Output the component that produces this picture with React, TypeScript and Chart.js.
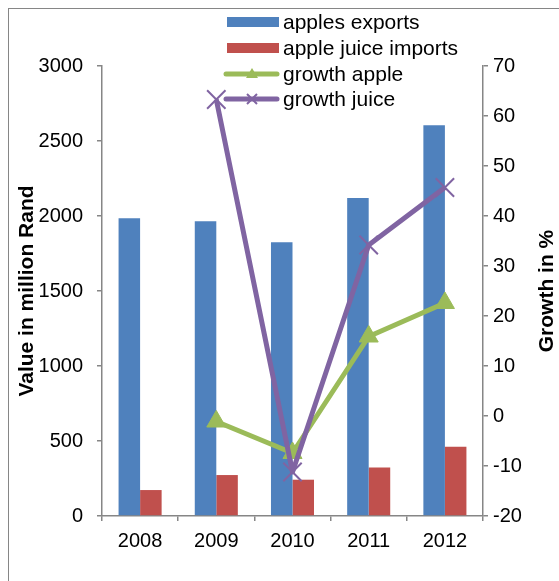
import React, { useEffect, useRef } from "react";
import { Chart, registerables } from "chart.js";

Chart.register(...registerables);

const years = ["2008", "2009", "2010", "2011", "2012"];
const applesExports = [1985, 1965, 1825, 2120, 2605];
const appleJuiceImports = [173, 273, 242, 324, 462];
const growthApple = [null, -1.1, -7.4, 15.9, 22.6];
const growthJuice = [null, 63.3, -11.2, 34.2, 45.7];
const leftTicks = [0, 500, 1000, 1500, 2000, 2500, 3000];
const rightTicks = [-20, -10, 0, 10, 20, 30, 40, 50, 60, 70];

const FONT = '"Liberation Sans", Arial, sans-serif';
const AXIS = "#868686";
const BLUE = "#4F81BD";
const RED = "#C0504D";
const GREEN = "#9BBB59";
const PURPLE = "#8064A2";

const CW = 550;
const CH = 572;
const AREA_LEFT = 93;
const AREA_RIGHT = 474;
const AREA_TOP = 57;
const AREA_BOTTOM = 507;

const legendPlugin = {
  id: "customLegend",
  afterDraw(chart: any) {
    const ctx = chart.ctx;
    const rows = [13, 39, 65, 90];
    const order = [0, 1, 2, 3];
    ctx.save();
    ctx.font = `21px ${FONT}`;
    ctx.textBaseline = "middle";
    ctx.textAlign = "left";
    order.forEach((di, i) => {
      const ds = chart.data.datasets[di];
      const y = rows[i];
      if (ds.type === "line") {
        ctx.strokeStyle = ds.borderColor;
        ctx.lineWidth = 5;
        ctx.lineCap = "round";
        ctx.beginPath();
        ctx.moveTo(217, y);
        ctx.lineTo(268, y);
        ctx.stroke();
        ctx.lineCap = "butt";
        const cx = 243;
        if (ds.pointStyle === "triangle") {
          ctx.fillStyle = ds.borderColor;
          ctx.beginPath();
          ctx.moveTo(cx, y - 6);
          ctx.lineTo(cx + 6, y + 4);
          ctx.lineTo(cx - 6, y + 4);
          ctx.closePath();
          ctx.fill();
        } else {
          ctx.lineWidth = 2;
          ctx.beginPath();
          ctx.moveTo(cx - 5, y - 5);
          ctx.lineTo(cx + 5, y + 5);
          ctx.moveTo(cx + 5, y - 5);
          ctx.lineTo(cx - 5, y + 5);
          ctx.stroke();
        }
      } else {
        ctx.fillStyle = ds.backgroundColor;
        ctx.fillRect(218, y - 5, 52, 10);
      }
      ctx.fillStyle = "#000";
      ctx.fillText(ds.label, 274, y + 1);
    });
    // right axis title, reading bottom to top
    ctx.font = `bold 21px ${FONT}`;
    ctx.textAlign = "center";
    ctx.translate(538, (AREA_TOP + AREA_BOTTOM) / 2);
    ctx.rotate(-Math.PI / 2);
    ctx.fillText("Growth in %", 0, 0);
    ctx.restore();
  },
};

export default function App() {
  const ref = useRef<HTMLCanvasElement>(null);
  useEffect(() => {
    if (!ref.current) return;
    const chart = new Chart(ref.current, {
      type: "bar",
      data: {
        labels: years,
        datasets: [
          {
            type: "bar",
            label: "apples exports",
            data: applesExports,
            backgroundColor: BLUE,
            yAxisID: "y",
            order: 3,
            barPercentage: 1,
            categoryPercentage: 0.565,
          },
          {
            type: "bar",
            label: "apple juice imports",
            data: appleJuiceImports,
            backgroundColor: RED,
            yAxisID: "y",
            order: 3,
            barPercentage: 1,
            categoryPercentage: 0.565,
          },
          {
            type: "line",
            label: "growth apple",
            data: growthApple,
            borderColor: GREEN,
            backgroundColor: GREEN,
            borderWidth: 5,
            pointStyle: "triangle",
            pointRadius: 11,
            pointBackgroundColor: GREEN,
            pointBorderColor: GREEN,
            pointBorderWidth: 1,
            yAxisID: "y1",
            order: 2,
            tension: 0,
            borderJoinStyle: "round",
          },
          {
            type: "line",
            label: "growth juice",
            data: growthJuice,
            borderColor: PURPLE,
            backgroundColor: PURPLE,
            borderWidth: 5,
            pointStyle: "crossRot",
            pointRadius: 13,
            pointBorderColor: PURPLE,
            pointBorderWidth: 2,
            yAxisID: "y1",
            order: 1,
            tension: 0,
            borderJoinStyle: "round",
          },
        ] as any,
      },
      options: {
        animation: false,
        responsive: false,
        maintainAspectRatio: false,
        layout: { padding: { top: AREA_TOP, left: 0, right: 0, bottom: 0 } },
        plugins: {
          legend: { display: false },
          tooltip: { enabled: false },
          title: { display: false },
        },
        scales: {
          x: {
            offset: true,
            grid: {
              offset: true,
              drawOnChartArea: false,
              drawTicks: true,
              tickLength: 5,
              color: AXIS,
              lineWidth: 1.5,
            },
            border: { color: AXIS, width: 1.5 },
            ticks: {
              font: { family: FONT, size: 20 },
              color: "#000",
              padding: 8,
              maxRotation: 0,
            },
            afterFit(scale: any) {
              scale.height = CH - AREA_BOTTOM;
            },
          },
          y: {
            position: "left",
            min: 0,
            max: 3000,
            afterBuildTicks(scale: any) {
              scale.ticks = leftTicks.map((v) => ({ value: v }));
            },
            grid: {
              drawOnChartArea: false,
              tickLength: 5,
              color: AXIS,
              lineWidth: 1.5,
            },
            border: { color: AXIS, width: 1.5 },
            ticks: {
              font: { family: FONT, size: 20 },
              color: "#000",
              padding: 14,
              callback: (v: any) => String(v),
            },
            title: {
              display: true,
              text: "Value in million Rand",
              font: { family: FONT, size: 21, weight: "bold" },
              color: "#000",
              padding: { top: 6, bottom: 0 },
            },
            afterFit(scale: any) {
              scale.width = AREA_LEFT;
            },
          },
          y1: {
            position: "right",
            min: -20,
            max: 70,
            afterBuildTicks(scale: any) {
              scale.ticks = rightTicks.map((v) => ({ value: v }));
            },
            grid: {
              drawOnChartArea: false,
              tickLength: 5,
              color: AXIS,
              lineWidth: 1.5,
            },
            border: { color: AXIS, width: 1.5 },
            ticks: {
              font: { family: FONT, size: 20 },
              color: "#000",
              padding: 5,
              callback: (v: any) => String(v),
            },
            afterFit(scale: any) {
              scale.width = CW - AREA_RIGHT;
            },
          },
        },
      } as any,
      plugins: [legendPlugin],
    });
    return () => chart.destroy();
  }, []);

  return (
    <div
      style={{
        position: "fixed",
        left: 8,
        top: 8,
        width: CW,
        height: CH + 1,
        borderLeft: `1px solid ${AXIS}`,
        borderTop: `1px solid ${AXIS}`,
        background: "#fff",
      }}
    >
      <canvas ref={ref} width={CW} height={CH} style={{ display: "block", width: CW, height: CH }} />
    </div>
  );
}
